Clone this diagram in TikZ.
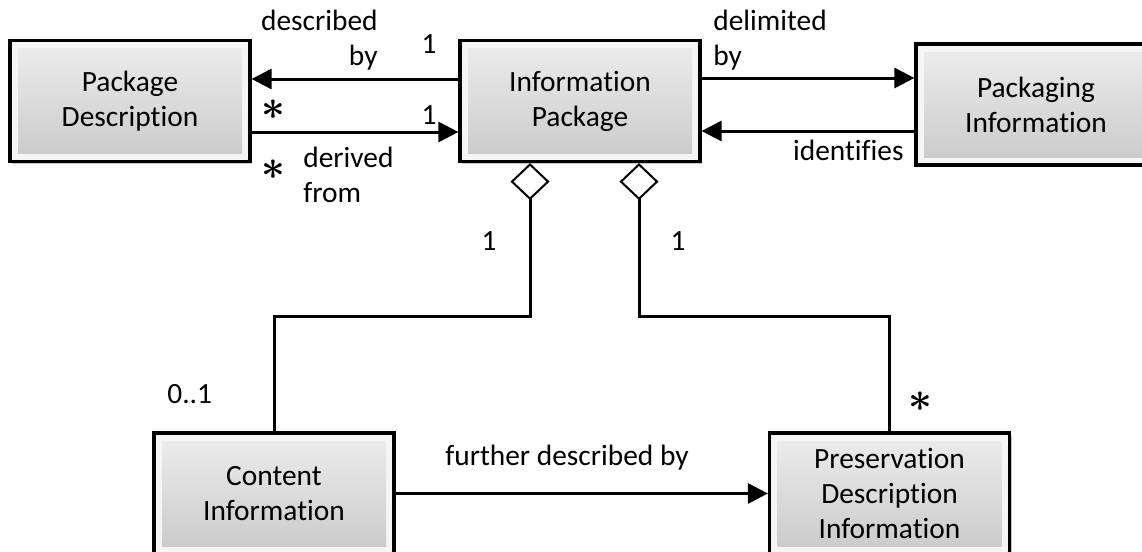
\documentclass[tikz,border=0pt]{standalone}
\usepackage{amsmath}
\usepackage{fontspec}
\setmainfont{Carlito}[Ligatures=NoCommon]
\usepackage{tikz}
\usetikzlibrary{arrows.meta,shadows}
\newcommand{\lblfont}{\fontsize{14.7}{17.5}\selectfont}
\newcommand{\many}{{\fontsize{20}{20}\selectfont$\boldsymbol{\ast}$}}

\tikzset{
	block/.style={draw,line width=1.6pt,fill=gray!8,minimum width=120pt,minimum height=60.5pt,
		inner sep=0pt,align=center,font=\lblfont,
		drop shadow={shadow xshift=1.2pt,shadow yshift=-1.2pt,opacity=.45},
		path picture={\shade[top color=gray!14,bottom color=gray!42]
			([shift={(4pt,-4pt)}]path picture bounding box.north west) rectangle
			([shift={(-4pt,4pt)}]path picture bounding box.south east);}},
	arr/.style={line width=1.5pt,-{Triangle[length=10pt,width=10pt]}},
	aggr/.style={line width=1.5pt,{Diamond[open,length=18.5pt,width=19.5pt,line width=1pt]}-},
	lbl/.style={inner sep=0pt,font=\lblfont}
}

\begin{document}
\begin{tikzpicture}[x=0.5pt,y=-0.5pt]
	\useasboundingbox (0,0) rectangle (1142,552);
	%boxes
	\node[block] (PD)  at (130,101)    {Package\\Description};
	\node[block] (IP)  at (580,101)    {Information\\Package};
	\node[block] (PI)  at (1036,104.5) {Packaging\\Information};
	\node[block] (CI)  at (274,493.5)  {Content\\Information};
	\node[block] (PDI) at (889.5,493.5) {Preservation\\Description\\Information};
	
	%arrows
	\draw[arr] ([yshift=11pt]IP.west) -- ([yshift=11pt]PD.east);				%described by
	\draw[arr] ([yshift=-15.5pt]PD.east) -- ([yshift=-15.5pt]IP.west);			%derived from
	\draw[arr] ([yshift=11.5pt]IP.east) -- ([yshift=11.5pt]IP.east -| PI.west);	%delimited by
	\draw[arr] ([yshift=-15pt]IP.east -| PI.west) -- ([yshift=-15pt]IP.east);	%identifies
	\draw[arr] (CI.east) -- (CI.east -| PDI.west);								%further described by
	%
	\draw[aggr] ([xshift=-25pt]IP.south) -- ++(0,153) -| (CI.north);			%package--content
	\draw[aggr] ([xshift=29.5pt]IP.south) -- ++(0,153) -| (PDI.north);		%package--preservation
	
	%labels
	\node[lbl,align=right,anchor=north east] (ldescr) at (378,10)  {described\\by};
	\node[lbl,align=left,anchor=north west]  (lderiv) at (303,147) {derived\\from};
	\node[lbl,align=left,anchor=north west]  (ldelim) at (713,10)  {delimited\\by};
	\node[lbl,anchor=base east]  (lident)   at (904,160) {identifies};
	\node[lbl,anchor=base west]  (lfurther) at (445,465) {further described by};
	
	%multiplicities
	\node[lbl,anchor=base] (m1) at (429,53)  {1};
	\node[lbl,anchor=base] (m2) at (429,124) {1};
	\node[lbl,anchor=base] (m3) at (489,250) {1};
	\node[lbl,anchor=base] (m4) at (678,250) {1};
	\node[lbl,anchor=base west] (m5) at (167,403) {0..1};
	\node[inner sep=0pt] (s1) at (273,110) {\many};
	\node[inner sep=0pt] (s2) at (273,170) {\many};
	\node[inner sep=0pt] (s3) at (920,402) {\many};
\end{tikzpicture}
\end{document}
